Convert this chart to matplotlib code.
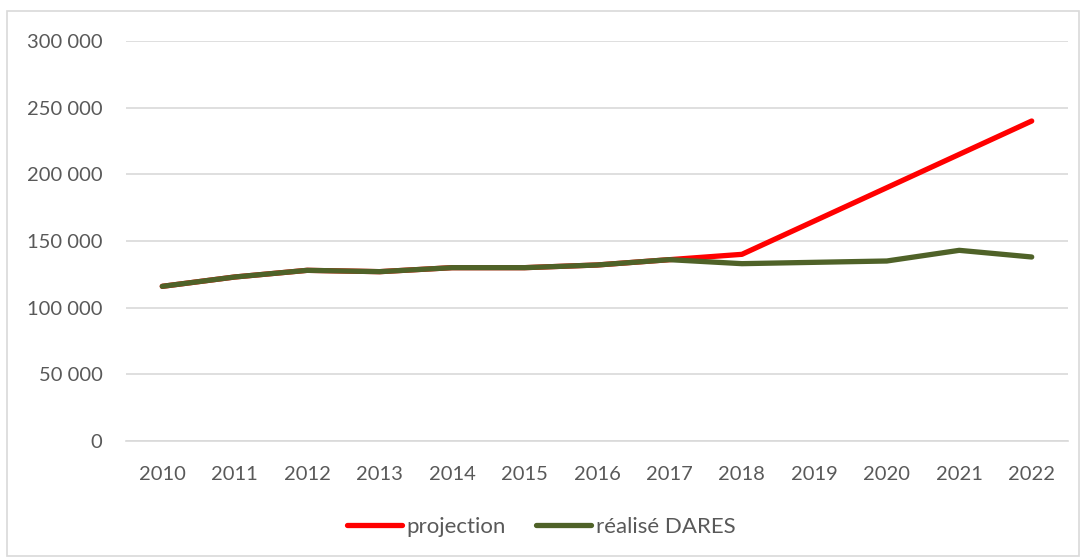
import matplotlib.pyplot as plt
from matplotlib.patches import Rectangle
from matplotlib.ticker import FuncFormatter

years = ["2010", "2011", "2012", "2013", "2014", "2015", "2016",
         "2017", "2018", "2019", "2020", "2021", "2022"]
projection = [116000, 123000, 128000, 127000, 130000, 130000, 132000,
              136000, 140000, 165000, 190000, 215000, 240000]
realise = [116000, 123000, 128000, 127000, 130000, 130000, 132000,
           136000, 133000, 134000, 135000, 143000, 138000]

plt.rcParams["font.family"] = ["Lato", "DejaVu Sans"]
text_color = "#595959"
grid_color = "#d9d9d9"

fig = plt.figure(figsize=(10.82, 5.58), dpi=100)
ax = fig.add_axes([0.1165, 0.2097, 0.8705, 0.7168])

# chart border
fig.patches.append(Rectangle((0.0065, 0.004), 0.991, 0.976, transform=fig.transFigure,
                             fill=False, edgecolor=grid_color, linewidth=1.2))

x = range(len(years))
ax.plot(x, projection, color="#ff0000", linewidth=3.8, solid_capstyle="round",
        label="projection", zorder=3)
ax.plot(x, realise, color="#4f6228", linewidth=3.8, solid_capstyle="round",
        label="réalisé DARES", zorder=4)

ax.set_xlim(-0.5, len(years) - 0.5)
ax.set_ylim(0, 300000)
ax.set_yticks(range(0, 300001, 50000))
ax.yaxis.set_major_formatter(FuncFormatter(lambda v, p: f"{int(v):,}".replace(",", " ")))
ax.set_xticks(list(x))
ax.set_xticklabels(years)

ax.grid(axis="y", color=grid_color, linewidth=1.2)
ax.set_axisbelow(True)
for s in ["top", "right", "left"]:
    ax.spines[s].set_visible(False)
ax.spines["bottom"].set_color(grid_color)
ax.spines["bottom"].set_linewidth(1.2)
ax.tick_params(length=0, labelsize=14.5, colors=text_color)
ax.tick_params(axis="x", pad=18)
ax.tick_params(axis="y", pad=17)

leg = fig.legend(loc="center", bbox_to_anchor=(0.5, 0.056), ncol=2, frameon=False,
                 fontsize=16, handlelength=2.5, handletextpad=0.2, columnspacing=1.35)
for t in leg.get_texts():
    t.set_color(text_color)

fig.savefig("out.png", dpi=100)
